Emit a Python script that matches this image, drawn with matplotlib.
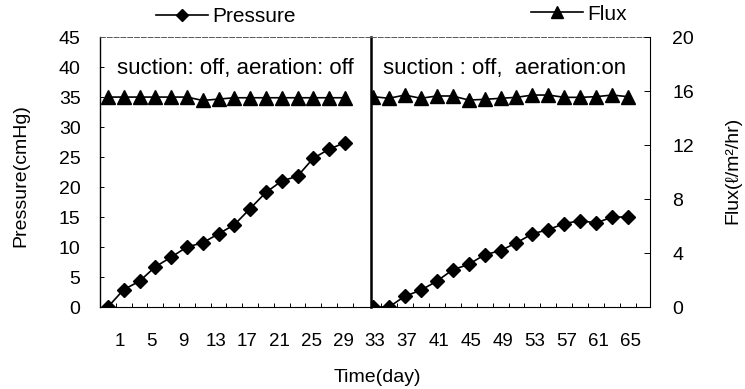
import matplotlib.pyplot as plt
from matplotlib.lines import Line2D

plt.rcParams['font.family'] = ['Liberation Sans', 'DejaVu Sans']

# data: left panel (suction off, aeration off)
left_days = [1, 3, 5, 7, 9, 11, 13, 15, 17, 19, 21, 23, 25, 27, 29, 31]
left_pressure = [0.0, 2.9, 4.3, 6.7, 8.3, 10.0, 10.7, 12.2, 13.7, 16.4,
                 19.1, 21.0, 21.8, 24.8, 26.3, 27.4]
left_flux = [15.55, 15.55, 15.55, 15.55, 15.55, 15.55, 15.3, 15.4,
             15.5, 15.5, 15.5, 15.5, 15.5, 15.5, 15.5, 15.5]

# data: right panel (suction off, aeration on)
right_days = [33, 35, 37, 39, 41, 43, 45, 47, 49, 51, 53, 55, 57, 59, 61, 63, 65]
right_pressure = [0.0, 0.0, 1.8, 2.8, 4.3, 6.2, 7.1, 8.7, 9.4, 10.7,
                  12.2, 12.9, 13.9, 14.4, 14.0, 15.0, 15.0]
right_flux = [15.58, 15.46, 15.70, 15.46, 15.63, 15.63, 15.33, 15.38, 15.46,
              15.53, 15.70, 15.70, 15.53, 15.53, 15.58, 15.70, 15.58]

xtick_days = [1, 5, 9, 13, 17, 21, 25, 29, 33, 37, 41, 45, 49, 53, 57, 61, 65]
pressure_ticks = [0, 5, 10, 15, 20, 25, 30, 35, 40, 45]
flux_ticks = [0, 4, 8, 12, 16, 20]

# figure, pixel based layout
W, H = 745, 389
fig = plt.figure(figsize=(W / 100, H / 100), dpi=100)


def box(x0, y0, x1, y1):
    return [x0 / W, 1 - y1 / H, (x1 - x0) / W, (y1 - y0) / H]


fs = 14

# axis that only carries the day labels under both panels
ax_lab = fig.add_axes(box(100, 37, 650, 307))
ax_lab.set_xlim(-1.51, 67.5)
ax_lab.set_ylim(0, 1)
ax_lab.set_xticks(xtick_days)
ax_lab.set_xticklabels([str(d) for d in xtick_days], fontsize=13.5)
ax_lab.tick_params(axis='x', length=0, pad=19)
ax_lab.set_yticks([])
for s in ax_lab.spines.values():
    s.set_visible(False)
ax_lab.patch.set_visible(False)

ax_l = fig.add_axes(box(100, 37, 371, 307))
ax_r = fig.add_axes(box(371, 37, 650, 307))

ax_l.set_xlim(0, 34.3)
ax_r.set_xlim(32.75, 67.75)

for ax in (ax_l, ax_r):
    ax.set_ylim(0, 45)
    ax.patch.set_visible(False)
    ax.spines['top'].set_linestyle((0, (5, 2)))
    ax.spines['top'].set_linewidth(0.7)
    ax.spines['top'].set_color('0.35')
    ax.spines['bottom'].set_linewidth(0.8)
    ax.tick_params(axis='x', direction='in', length=3, width=0.7, labelbottom=False)

ax_l.set_xticks([d + 1 for d in left_days])
ax_r.set_xticks([d + 1 for d in right_days])

ax_l.set_yticks(pressure_ticks)
ax_l.set_yticklabels([str(v) for v in pressure_ticks], fontsize=fs)
ax_l.tick_params(axis='y', direction='in', length=3, width=0.7, pad=14)
ax_l.spines['left'].set_linewidth(1.0)
ax_l.spines['right'].set_linewidth(1.8)
ax_r.set_yticks([])
ax_r.spines['left'].set_visible(False)
ax_r.spines['right'].set_linewidth(0.8)

# pressure lines
ax_l.plot(left_days, left_pressure, color='k', lw=1.2, marker='D', ms=7.5,
          mfc='k', mec='k')
ax_r.plot(right_days, right_pressure, color='k', lw=1.2, marker='D', ms=7.5,
          mfc='k', mec='k')

# flux on secondary axes
tw_l = ax_l.twinx()
tw_r = ax_r.twinx()
for tw in (tw_l, tw_r):
    tw.set_ylim(0, 20)
    for s in tw.spines.values():
        s.set_visible(False)
tw_l.set_yticks([])
tw_r.set_yticks(flux_ticks)
tw_r.set_yticklabels([str(v) for v in flux_ticks], fontsize=fs)
tw_r.tick_params(axis='y', direction='in', length=4, width=0.7, pad=16)

tw_l.plot(left_days, left_flux, color='k', lw=1.2, marker='^', ms=9.5)
tw_r.plot(right_days, right_flux, color='k', lw=1.2, marker='^', ms=9.5)

# panel notes
ax_l.text(0.5, 0.885, 'suction: off, aeration: off', transform=ax_l.transAxes,
          ha='center', va='center', fontsize=16)
ax_r.text(0.48, 0.885, 'suction : off,  aeration:on', transform=ax_r.transAxes,
          ha='center', va='center', fontsize=16)

# axis titles
fig.text(377 / W, 1 - 378 / H, 'Time(day)', ha='center', va='center', fontsize=fs)
fig.text(21 / W, 1 - 176 / H, 'Pressure(cmHg)', ha='center', va='center',
         rotation=90, fontsize=fs)
fig.text(733 / W, 1 - 170 / H, 'Flux(ℓ/m²/hr)', ha='center', va='center',
         rotation=90, fontsize=fs)

# legends
h_p = Line2D([], [], color='k', lw=1.2, marker='D', ms=6)
h_f = Line2D([], [], color='k', lw=1.2, marker='^', ms=8)
fig.legend([h_p], ['Pressure'], loc='center left', bbox_to_anchor=(156 / W, 1 - 17 / H),
           frameon=False, fontsize=15, handlelength=2.5, handletextpad=0.2,
           borderpad=0, borderaxespad=0)
fig.legend([h_f], ['Flux'], loc='center left', bbox_to_anchor=(531 / W, 1 - 14 / H),
           frameon=False, fontsize=15, handlelength=2.5, handletextpad=0.2,
           borderpad=0, borderaxespad=0)

fig.savefig('out.png', dpi=100)
